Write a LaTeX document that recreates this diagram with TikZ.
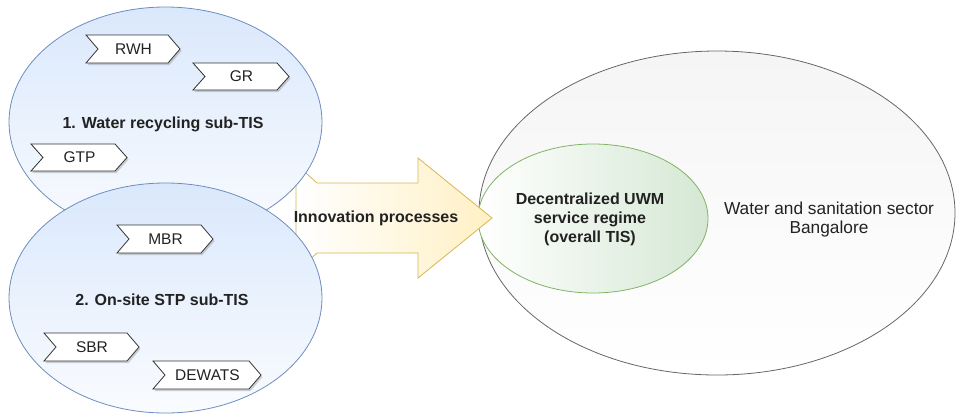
\documentclass[tikz,border=0pt]{standalone}
\usepackage{fontspec}
\setmainfont{Liberation Sans}
\usetikzlibrary{shadows}
\definecolor{bluefill}{HTML}{DAE8FC}
\definecolor{bluestroke}{HTML}{6C8EBF}
\definecolor{yelfill}{HTML}{FFF0C4}
\definecolor{yelstroke}{HTML}{D6B656}
\definecolor{greenfill}{HTML}{D5E8D4}
\definecolor{greenstroke}{HTML}{82B366}
\definecolor{grayfill}{HTML}{F5F5F5}
\definecolor{graystroke}{HTML}{666666}
\definecolor{txt}{HTML}{222222}
\begin{document}
\begin{tikzpicture}[x=1pt,y=-1pt,
  subtis/.style={draw=bluestroke,line width=0.8pt,top color=bluefill,bottom color=white!85!bluefill},
  tag/.style={draw=black!80,line width=0.8pt,fill=white,drop shadow={shadow xshift=1.5pt,shadow yshift=-2pt,opacity=0.35}},
  tagtext/.style={font=\fontsize{15.5}{18}\selectfont,text=txt},
  bold/.style={font=\bfseries\fontsize{16}{19}\selectfont,text=txt,align=center},
  plain/.style={font=\fontsize{17.3}{19}\selectfont,text=txt,align=center}]
\useasboundingbox (0,0) rectangle (956,416);
% right ellipses
\draw[graystroke,line width=0.8pt,top color=grayfill,bottom color=white] (717,213) ellipse [x radius=238, y radius=162];
\coordinate (sector) at (717,213);
\draw[greenstroke,line width=0.8pt,left color=white,right color=greenfill] (593,218.5) ellipse [x radius=115, y radius=74.5];
\coordinate (regime) at (593,218.5);
% arrow
\draw[yelstroke,line width=0.8pt,left color=white,right color=yelfill,line join=miter]
  (296,164) -- (317,183) -- (418,183) -- (418,158) -- (492,218) -- (418,278) -- (418,253) -- (317,253) -- (296,272) -- cycle;
\node[bold] (innov) at (376,218) {Innovation processes};
% left ellipses
\draw[subtis] (165.5,122) ellipse [x radius=156.5, y radius=115];
\coordinate (sub1) at (165.5,122);
\draw[subtis] (165.5,298) ellipse [x radius=156.5, y radius=115];
\coordinate (sub2) at (165.5,298);
\node[bold] (l1) at (163,124) {1. Water recycling sub-TIS};
\node[bold] (l2) at (162,300) {2. On-site STP sub-TIS};
% tags
\newcommand{\tagshape}[6]{% name, x1, y1, x2, y2, text
  \draw[tag] (#2,#3) -- (#4-12,#3) -- (#4,{(#3+#5)/2}) -- (#4-12,#5) -- (#2,#5) -- (#2+12,{(#3+#5)/2}) -- cycle;
  \node[tagtext] (#1) at ({(#2+#4)/2+0.5},{(#3+#5)/2}) {#6};}
\tagshape{rwh}{86}{35}{180}{63}{RWH}
\tagshape{gr}{193}{63}{289}{90}{GR}
\tagshape{gtp}{31}{144}{127}{171}{GTP}
\tagshape{mbr}{117}{225}{213}{253}{MBR}
\tagshape{sbr}{44}{333}{139}{361}{SBR}
\tagshape{dewats}{153}{361}{261}{389}{DEWATS}
% texts right
\node[bold] (regtext) at (590,219) {Decentralized UWM\\service regime\\(overall TIS)};
\node[plain] (sectext) at (829,219.5) {Water and sanitation sector\\Bangalore};
\end{tikzpicture}
\end{document}
